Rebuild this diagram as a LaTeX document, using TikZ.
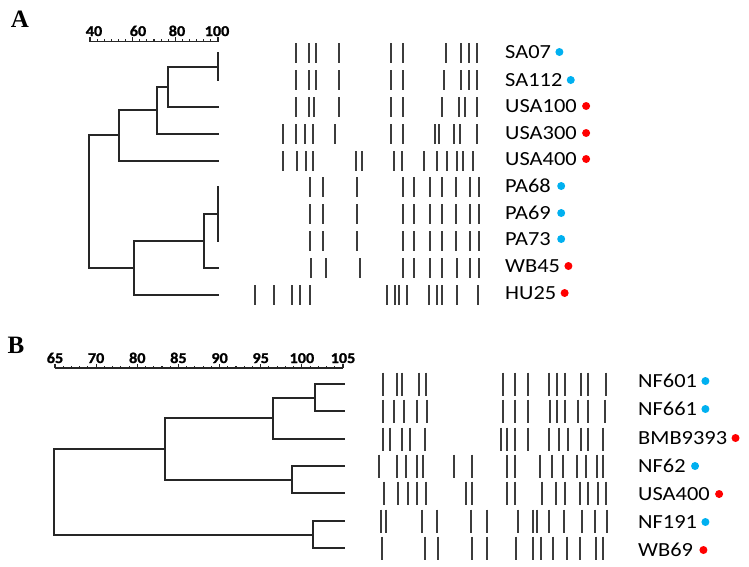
\documentclass[tikz,border=0pt]{standalone}
\usepackage{fontspec}
\setmainfont{Carlito}
\newfontfamily\labelfont[FakeStretch=1.12]{Carlito}
\newfontfamily\scalefont[FakeStretch=1.08, FakeBold=1.2]{Carlito Bold}
\newfontfamily\panelfont{Liberation Serif Bold}
\usepackage{xcolor}
\definecolor{dot_blue}{HTML}{00B0F0}
\definecolor{dot_red}{HTML}{FF0000}
\definecolor{band_grey}{HTML}{3C3C3C}
\usepackage{tikz}
\usetikzlibrary{positioning}

\begin{document}
\begin{tikzpicture}[x=1pt, y=-1pt,
    tree/.style={line width=1.6pt, black!85, line cap=rect},
    band/.style={line width=1.7pt, band_grey},
    axis/.style={line width=1.1pt, black!85},
    strain/.style={anchor=west, inner sep=0pt, font=\labelfont\fontsize{20}{24}\selectfont},
    bluedot/.style={circle, fill=dot_blue, minimum size=8pt, inner sep=0pt},
    reddot/.style={circle, fill=dot_red, minimum size=8pt, inner sep=0pt},
    scalelab/.style={anchor=base, inner sep=0pt, font=\scalefont\fontsize{15}{17}\selectfont},
    panel/.style={anchor=base, inner sep=0pt, font=\panelfont\fontsize{25}{28}\selectfont}]
      \useasboundingbox (0,0) rectangle (749,566);

      % panel A
      \node[panel] (pa) at (20,27) {A};

      \draw[axis] (90,41.5) -- (218,41.5);
      \foreach \i in {0,...,18}
        \draw[axis] (90+\i*128/18,41.5) -- ++(0,-2.5);
      \foreach \i in {0,...,3}
        \draw[axis] (90+\i*128/3,41.5) -- ++(0,-4.5);
      \node[scalelab] (sa40) at (94,36) {40};
      \node[scalelab] (sa60) at (138,36) {60};
      \node[scalelab] (sa80) at (177,36) {80};
      \node[scalelab] (sa100) at (217,36) {100};

      \coordinate (a1) at (218,53);
      \coordinate (a2) at (218,80);
      \coordinate (a3) at (218,107);
      \coordinate (a4) at (218,134);
      \coordinate (a5) at (218,161);
      \coordinate (a6) at (218,187);
      \coordinate (a7) at (218,214);
      \coordinate (a8) at (218,241);
      \coordinate (a9) at (218,268);
      \coordinate (a10) at (218,295);
      \coordinate (a12) at (218,67);
      \coordinate (a123) at (168,87);
      \coordinate (a1234) at (157,110);
      \coordinate (a12345) at (119,135);
      \coordinate (a678) at (218,214);
      \coordinate (a6789) at (204,241);
      \coordinate (a678910) at (134,268);
      \coordinate (aroot) at (89,202);

      \draw[tree] (a1) -- (a2);
      \draw[tree] (a123) |- (a12) (a123) |- (a3);
      \draw[tree] (a1234) |- (a123) (a1234) |- (a4);
      \draw[tree] (a12345) |- (a1234) (a12345) |- (a5);
      \draw[tree] (a6) -- (a8);
      \draw[tree] (a6789) |- (a678) (a6789) |- (a9);
      \draw[tree] (a678910) |- (a6789) (a678910) |- (a10);
      \draw[tree] (aroot) |- (a12345) (aroot) |- (a678910);

      \foreach \y/\xs in {
          53/{296,309,316,339,391,403,446,461,469,477},
          80/{296,309,316,339,391,403,444,461,469,477},
          107/{296,309,314,339,391,403,442,459,465,477},
          134/{283,296,305,313,335,391,403,435,439,454,460,477},
          161/{283,297,306,313,356,362,394,402,424,437,447,457,463,473},
          187/{310,323,357,403,414,430,442,456,470,479},
          214/{310,323,357,403,414,430,442,456,470,479},
          241/{310,323,357,403,414,430,442,456,470,479},
          268/{311,326,360,403,414,430,442,457,470,479},
          295/{255,274,292,300,310,387,395,399,407,429,437,442,457,478}}
        {\foreach \x in \xs \draw[band] (\x,\y-10) -- (\x,\y+10);}

      \node[strain] (sa07) at (505,52) {SA07};
      \node[strain] (sa112) at (505,80) {SA112};
      \node[strain] (usa100) at (505,106) {USA100};
      \node[strain] (usa300) at (505,133) {USA300};
      \node[strain] (usa400a) at (505,159) {USA400};
      \node[strain] (pa68) at (505,186) {PA68};
      \node[strain] (pa69) at (505,213) {PA69};
      \node[strain] (pa73) at (505,239) {PA73};
      \node[strain] (wb45) at (505,266) {WB45};
      \node[strain] (hu25) at (505,293) {HU25};

      \node[bluedot, right=4pt of sa07] (sa07d) {};
      \node[bluedot, right=4pt of sa112] (sa112d) {};
      \node[reddot, right=5pt of usa100] (usa100d) {};
      \node[reddot, right=5pt of usa300] (usa300d) {};
      \node[reddot, right=5pt of usa400a] (usa400ad) {};
      \node[bluedot, right=6pt of pa68] (pa68d) {};
      \node[bluedot, right=6pt of pa69] (pa69d) {};
      \node[bluedot, right=6pt of pa73] (pa73d) {};
      \node[reddot, right=4pt of wb45] (wb45d) {};
      \node[reddot, right=4pt of hu25] (hu25d) {};

      % panel B
      \node[panel] (pb) at (16,353) {B};

      \draw[axis] (55,368) -- (343,368);
      \foreach \i in {0,...,35}
        \draw[axis] (55+\i*288/35,368) -- ++(0,-2.5);
      \foreach \i in {0,...,7}
        \draw[axis] (55+\i*288/7,368) -- ++(0,-4.5);
      \node[scalelab] (sb65) at (55,363) {65};
      \node[scalelab] (sb70) at (96.1,363) {70};
      \node[scalelab] (sb80) at (137.3,363) {80};
      \node[scalelab] (sb85) at (178.4,363) {85};
      \node[scalelab] (sb90) at (219.6,363) {90};
      \node[scalelab] (sb95) at (260.7,363) {95};
      \node[scalelab] (sb100) at (301.9,363) {100};
      \node[scalelab] (sb105) at (343,363) {105};

      \coordinate (b1) at (344,384);
      \coordinate (b2) at (344,411);
      \coordinate (b3) at (344,439);
      \coordinate (b4) at (344,466);
      \coordinate (b5) at (344,493);
      \coordinate (b6) at (344,521);
      \coordinate (b7) at (344,548);
      \coordinate (b12) at (315,398);
      \coordinate (b123) at (273,418);
      \coordinate (b45) at (292,480);
      \coordinate (b12345) at (165,449);
      \coordinate (b67) at (313,535);
      \coordinate (broot) at (54,492);

      \draw[tree] (b12) |- (b1) (b12) |- (b2);
      \draw[tree] (b123) |- (b12) (b123) |- (b3);
      \draw[tree] (b45) |- (b4) (b45) |- (b5);
      \draw[tree] (b12345) |- (b123) (b12345) |- (b45);
      \draw[tree] (b67) |- (b6) (b67) |- (b7);
      \draw[tree] (broot) |- (b12345) (broot) |- (b67);

      \foreach \y/\xs in {
          384/{383,397,402,419,426,503,515,528,549,557,565,581,588,606},
          411/{383,394,404,417,427,503,515,528,550,557,565,578,588,605},
          439/{383,390,402,410,425,501,507,515,528,549,559,568,581,588,603},
          466/{379,397,406,417,423,454,472,507,515,540,552,563,577,586,597,603},
          493/{384,398,408,417,426,466,472,507,515,542,556,565,580,588,598,606},
          521/{381,386,422,437,471,487,518,533,537,549,564,582,595,607},
          548/{382,425,438,472,487,516,533,541,553,567,580,596,603}}
        {\foreach \x in \xs \draw[band] (\x,\y-11.5) -- (\x,\y+11.5);}

      \node[strain] (nf601) at (638,381) {NF601};
      \node[strain] (nf661) at (638,409) {NF661};
      \node[strain] (bmb9393) at (638,438) {BMB9393};
      \node[strain] (nf62) at (638,466) {NF62};
      \node[strain] (usa400b) at (638,494) {USA400};
      \node[strain] (nf191) at (638,522) {NF191};
      \node[strain] (wb69) at (638,550) {WB69};

      \node[bluedot, right=4pt of nf601] (nf601d) {};
      \node[bluedot, right=4pt of nf661] (nf661d) {};
      \node[reddot, right=4pt of bmb9393] (bmb9393d) {};
      \node[bluedot, right=5pt of nf62] (nf62d) {};
      \node[reddot, right=5pt of usa400b] (usa400bd) {};
      \node[bluedot, right=4pt of nf191] (nf191d) {};
      \node[reddot, right=6pt of wb69] (wb69d) {};
\end{tikzpicture}
\end{document}
